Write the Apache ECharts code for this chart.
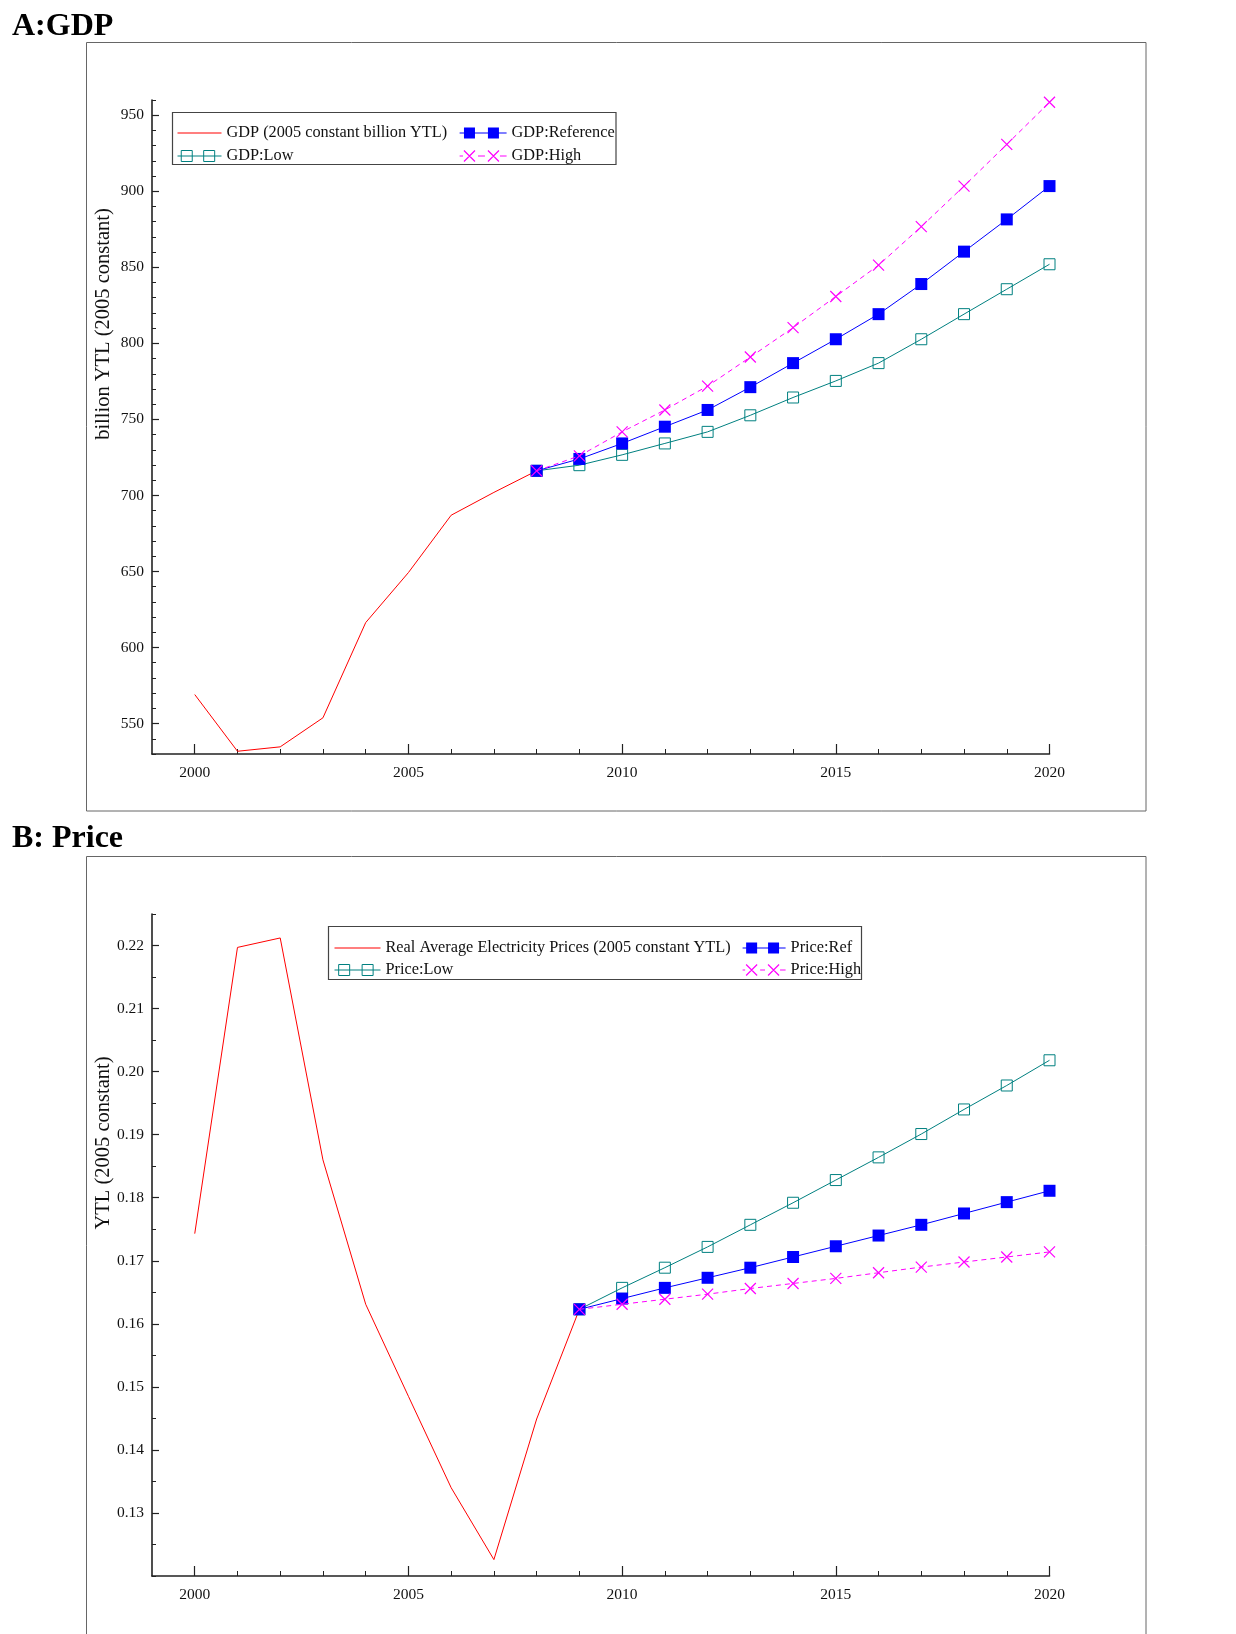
<!DOCTYPE html>
<html>
<head>
<meta charset="utf-8">
<script src="https://cdn.jsdelivr.net/npm/echarts@6/dist/echarts.min.js"></script>
<style>
html,body{margin:0;padding:0;background:#fff;}
#chart{width:1236px;height:1634px;}
</style>
</head>
<body>
<div id="chart"></div>
<script>
// ---------- Data ----------
const gdpHistYears = [2000, 2001, 2002, 2003, 2004, 2005, 2006, 2007, 2008];
const gdpHist      = [569.1, 531.8, 534.7, 553.8, 616.4, 649.3, 687.0, 702.0, 716.2];
const gdpScenYears = [2008, 2009, 2010, 2011, 2012, 2013, 2014, 2015, 2016, 2017, 2018, 2019, 2020];
const gdpRef  = [716.2, 724.0, 734.2, 745.2, 756.2, 771.2, 787.0, 802.7, 819.2, 839.0, 860.3, 881.5, 903.4];
const gdpLow  = [716.2, 719.9, 726.7, 734.2, 741.8, 752.7, 764.4, 775.3, 787.0, 802.7, 819.2, 835.6, 852.0];
const gdpHigh = [716.2, 726.0, 741.8, 756.2, 771.9, 791.0, 810.3, 830.8, 851.4, 876.7, 903.4, 930.8, 958.5];

const priceHistYears = [2000, 2001, 2002, 2003, 2004, 2005, 2006, 2007, 2008, 2009];
const priceHist      = [0.1743, 0.2197, 0.2212, 0.1860, 0.1631, 0.1485, 0.1340, 0.1226, 0.1449, 0.1623];
const priceScenYears = [2009, 2010, 2011, 2012, 2013, 2014, 2015, 2016, 2017, 2018, 2019, 2020];
const priceRef  = [0.1623, 0.1640, 0.1657, 0.1673, 0.1689, 0.1706, 0.1723, 0.1740, 0.1757, 0.1775, 0.1793, 0.1811];
const priceLow  = [0.1623, 0.1657, 0.1689, 0.1722, 0.1757, 0.1792, 0.1828, 0.1864, 0.1901, 0.1940, 0.1978, 0.2018];
const priceHigh = [0.1623, 0.1631, 0.1639, 0.1647, 0.1656, 0.1664, 0.1672, 0.1681, 0.1690, 0.1698, 0.1706, 0.1714];

// Tick labels
const yearTicks  = [2000, 2005, 2010, 2015, 2020];
const gdpTicks   = [550, 600, 650, 700, 750, 800, 850, 900, 950];
const priceTicks = [0.13, 0.14, 0.15, 0.16, 0.17, 0.18, 0.19, 0.20, 0.21, 0.22];

// Series names
const gdpNames   = ['GDP (2005 constant billion YTL)', 'GDP:Reference', 'GDP:Low', 'GDP:High'];
const priceNames = ['Real Average Electricity Prices (2005 constant YTL)', 'Price:Ref', 'Price:Low', 'Price:High'];

// ---------- Helpers ----------
const FONT = 'Liberation Serif';
const RED = '#ff0000', BLUE = '#0000ff', TEAL = '#008080', MAG = '#ff00ff';
const AX = '#222';
const pairs = (xs, ys) => xs.map((x, i) => [x, ys[i]]);

const yearMinor = []; for (let y = 2000; y <= 2020; y++) yearMinor.push(y);
const gdpMinor = []; for (let v = 530; v <= 960; v += 10) gdpMinor.push(v);
const priceMinor = []; for (let k = 0; k <= 21; k++) priceMinor.push(+(0.12 + k * 0.005).toFixed(3));

const XSYM = 'path://M0,0L10,10M10,0L0,10';

function iconLine(w) { return `path://M0,5.5L${w},5.5L${w},6.5L0,6.5Z`; }
function iconFilled(w) {
  const a = w * 0.21, b = w * 0.72, h = 5.5;
  return `path://M0,5.5L${w},5.5L${w},6.5L0,6.5Z` +
    `M${a-h},0.5L${a+h},0.5L${a+h},11.5L${a-h},11.5Z` +
    `M${b-h},0.5L${b+h},0.5L${b+h},11.5L${b-h},11.5Z`;
}
function iconOpen(w) {
  const a = w * 0.21, b = w * 0.72, h = 5.5;
  return `path://M0,6L${w},6` +
    `M${a-h},0.5L${a+h},0.5L${a+h},11.5L${a-h},11.5Z` +
    `M${b-h},0.5L${b+h},0.5L${b+h},11.5L${b-h},11.5Z`;
}
function iconCross(w) {
  const a = w * 0.21, b = w * 0.72, h = 5.5;
  return `path://M0,6L${a-h-1},6` +
    `M${a-h},0.5L${a+h},11.5M${a+h},0.5L${a-h},11.5` +
    `M${a+h+3},6L${b-h-3},6` +
    `M${b-h},0.5L${b+h},11.5M${b+h},0.5L${b-h},11.5` +
    `M${b+h+1},6L${w},6`;
}

function xAxes(grid) {
  const base = {
    type: 'value', gridIndex: grid, position: 'bottom', min: 1999, max: 2020,
    splitLine: { show: false }
  };
  return [
    Object.assign({}, base, {
      axisLine: { show: true, onZero: false, lineStyle: { color: AX, width: 1.6 } },
      axisTick: { show: true, inside: true, length: 10, customValues: yearTicks, lineStyle: { color: AX, width: 1.2 } },
      axisLabel: { show: true, customValues: yearTicks, margin: 11, fontFamily: FONT, fontSize: 15.5, color: '#111',
                   formatter: v => String(v) }
    }),
    Object.assign({}, base, {
      axisLine: { show: false },
      axisTick: { show: true, inside: true, length: 5, customValues: yearMinor, lineStyle: { color: AX, width: 1 } },
      axisLabel: { show: false }
    })
  ];
}
function yAxes(grid, min, max, major, minor, fmt) {
  const base = { type: 'value', gridIndex: grid, position: 'left', min: min, max: max, splitLine: { show: false } };
  return [
    Object.assign({}, base, {
      axisLine: { show: true, onZero: false, lineStyle: { color: AX, width: 1.6 } },
      axisTick: { show: true, inside: true, length: 7, customValues: major, lineStyle: { color: AX, width: 1.2 } },
      axisLabel: { show: true, customValues: major, margin: 8, fontFamily: FONT, fontSize: 15.5, color: '#111', formatter: fmt }
    }),
    Object.assign({}, base, {
      axisLine: { show: false },
      axisTick: { show: true, inside: true, length: 4, customValues: minor, lineStyle: { color: AX, width: 1 } },
      axisLabel: { show: false }
    })
  ];
}

function lineSeries(name, xi, yi, data, kind) {
  const s = { name: name, type: 'line', xAxisIndex: xi, yAxisIndex: yi, data: data,
              animation: false, emphasis: { disabled: true }, silent: true, z: 3 };
  if (kind === 'hist') {
    s.symbol = 'none';
    s.itemStyle = { color: RED };
    s.lineStyle = { color: RED, width: 1 };
  } else if (kind === 'ref') {
    s.symbol = 'rect'; s.symbolSize = 12;
    s.itemStyle = { color: BLUE, borderWidth: 0 };
    s.lineStyle = { color: BLUE, width: 1 };
    s.z = 4;
  } else if (kind === 'low') {
    s.symbol = 'rect'; s.symbolSize = 11;
    s.itemStyle = { color: 'transparent', borderColor: TEAL, borderWidth: 1 };
    s.lineStyle = { color: TEAL, width: 1 };
  } else if (kind === 'high') {
    s.symbol = XSYM; s.symbolSize = 11;
    s.itemStyle = { color: 'transparent', borderColor: MAG, borderWidth: 1.2 };
    s.lineStyle = { color: MAG, width: 1, type: [5, 4] };
    s.z = 5;
  }
  return s;
}

function legendItem(name, kind, w) {
  if (kind === 'hist') return { name, icon: iconLine(w), itemStyle: { color: RED, borderWidth: 0 } };
  if (kind === 'ref')  return { name, icon: iconFilled(w), itemStyle: { color: BLUE, borderWidth: 0 } };
  if (kind === 'low')  return { name, icon: iconOpen(w), itemStyle: { color: 'transparent', borderColor: TEAL, borderWidth: 1 } };
  return { name, icon: iconCross(w), itemStyle: { color: 'transparent', borderColor: MAG, borderWidth: 1.2 } };
}
function legend(left, top, w, gap, items) {
  return {
    orient: 'vertical', left: left, top: top, padding: 0, itemGap: gap,
    itemWidth: w, itemHeight: 12, selectedMode: false, symbolKeepAspect: true,
    textStyle: { fontFamily: FONT, fontSize: 16.3, color: '#111' },
    data: items.map(it => legendItem(it[0], it[1], w))
  };
}

const option = {
  backgroundColor: '#fff',
  animation: false,
  grid: [
    { left: 152, top: 100, width: 897.5, height: 654, outerBoundsMode: 'none' },
    { left: 152, top: 914, width: 897.5, height: 662, outerBoundsMode: 'none' }
  ],
  xAxis: [].concat(xAxes(0), xAxes(1)),
  yAxis: [].concat(
    yAxes(0, 530, 960, gdpTicks, gdpMinor, v => String(v)),
    yAxes(1, 0.12, 0.225, priceTicks, priceMinor, v => v.toFixed(2))
  ),
  legend: [
    legend(177, 125, 44, 7, [[gdpNames[0], 'hist'], [gdpNames[2], 'low']]),
    legend(459, 125, 47, 7, [[gdpNames[1], 'ref'], [gdpNames[3], 'high']]),
    legend(334, 940, 46, 6, [[priceNames[0], 'hist'], [priceNames[2], 'low']]),
    legend(742, 940, 43, 6, [[priceNames[1], 'ref'], [priceNames[3], 'high']])
  ],
  series: [
    lineSeries(gdpNames[0], 0, 0, pairs(gdpHistYears, gdpHist), 'hist'),
    lineSeries(gdpNames[2], 0, 0, pairs(gdpScenYears, gdpLow), 'low'),
    lineSeries(gdpNames[1], 0, 0, pairs(gdpScenYears, gdpRef), 'ref'),
    lineSeries(gdpNames[3], 0, 0, pairs(gdpScenYears, gdpHigh), 'high'),
    lineSeries(priceNames[0], 2, 2, pairs(priceHistYears, priceHist), 'hist'),
    lineSeries(priceNames[2], 2, 2, pairs(priceScenYears, priceLow), 'low'),
    lineSeries(priceNames[1], 2, 2, pairs(priceScenYears, priceRef), 'ref'),
    lineSeries(priceNames[3], 2, 2, pairs(priceScenYears, priceHigh), 'high')
  ],
  graphic: [
    { type: 'rect', silent: true, z: 0, shape: { x: 86.5, y: 42.5, width: 1059.5, height: 768.5 },
      style: { fill: 'none', stroke: '#666', lineWidth: 1 } },
    { type: 'rect', silent: true, z: 0, shape: { x: 86.5, y: 856.5, width: 1059.5, height: 820 },
      style: { fill: 'none', stroke: '#666', lineWidth: 1 } },
    { type: 'rect', silent: true, z: 0, shape: { x: 172.5, y: 112.5, width: 443.5, height: 52 },
      style: { fill: 'none', stroke: '#444', lineWidth: 1.2 } },
    { type: 'rect', silent: true, z: 0, shape: { x: 328.5, y: 926.5, width: 533, height: 53 },
      style: { fill: 'none', stroke: '#444', lineWidth: 1.2 } },
    { type: 'text', silent: true, x: 12, y: 27,
      style: { text: 'A:GDP', font: 'bold 32px "Liberation Serif"', fill: '#000', verticalAlign: 'middle', align: 'left' } },
    { type: 'text', silent: true, x: 12, y: 839,
      style: { text: 'B: Price', font: 'bold 32px "Liberation Serif"', fill: '#000', verticalAlign: 'middle', align: 'left' } },
    { type: 'text', silent: true, x: 104, y: 324, rotation: Math.PI / 2,
      style: { text: 'billion YTL (2005 constant)', font: '20.5px "Liberation Serif"', fill: '#111', verticalAlign: 'middle', align: 'center' } },
    { type: 'text', silent: true, x: 104, y: 1143, rotation: Math.PI / 2,
      style: { text: 'YTL (2005 constant)', font: '20.5px "Liberation Serif"', fill: '#111', verticalAlign: 'middle', align: 'center' } }
  ]
};

const chart = echarts.init(document.getElementById('chart'), null, { renderer: 'canvas', width: 1236, height: 1634 });
chart.setOption(option);
</script>
</body>
</html>
